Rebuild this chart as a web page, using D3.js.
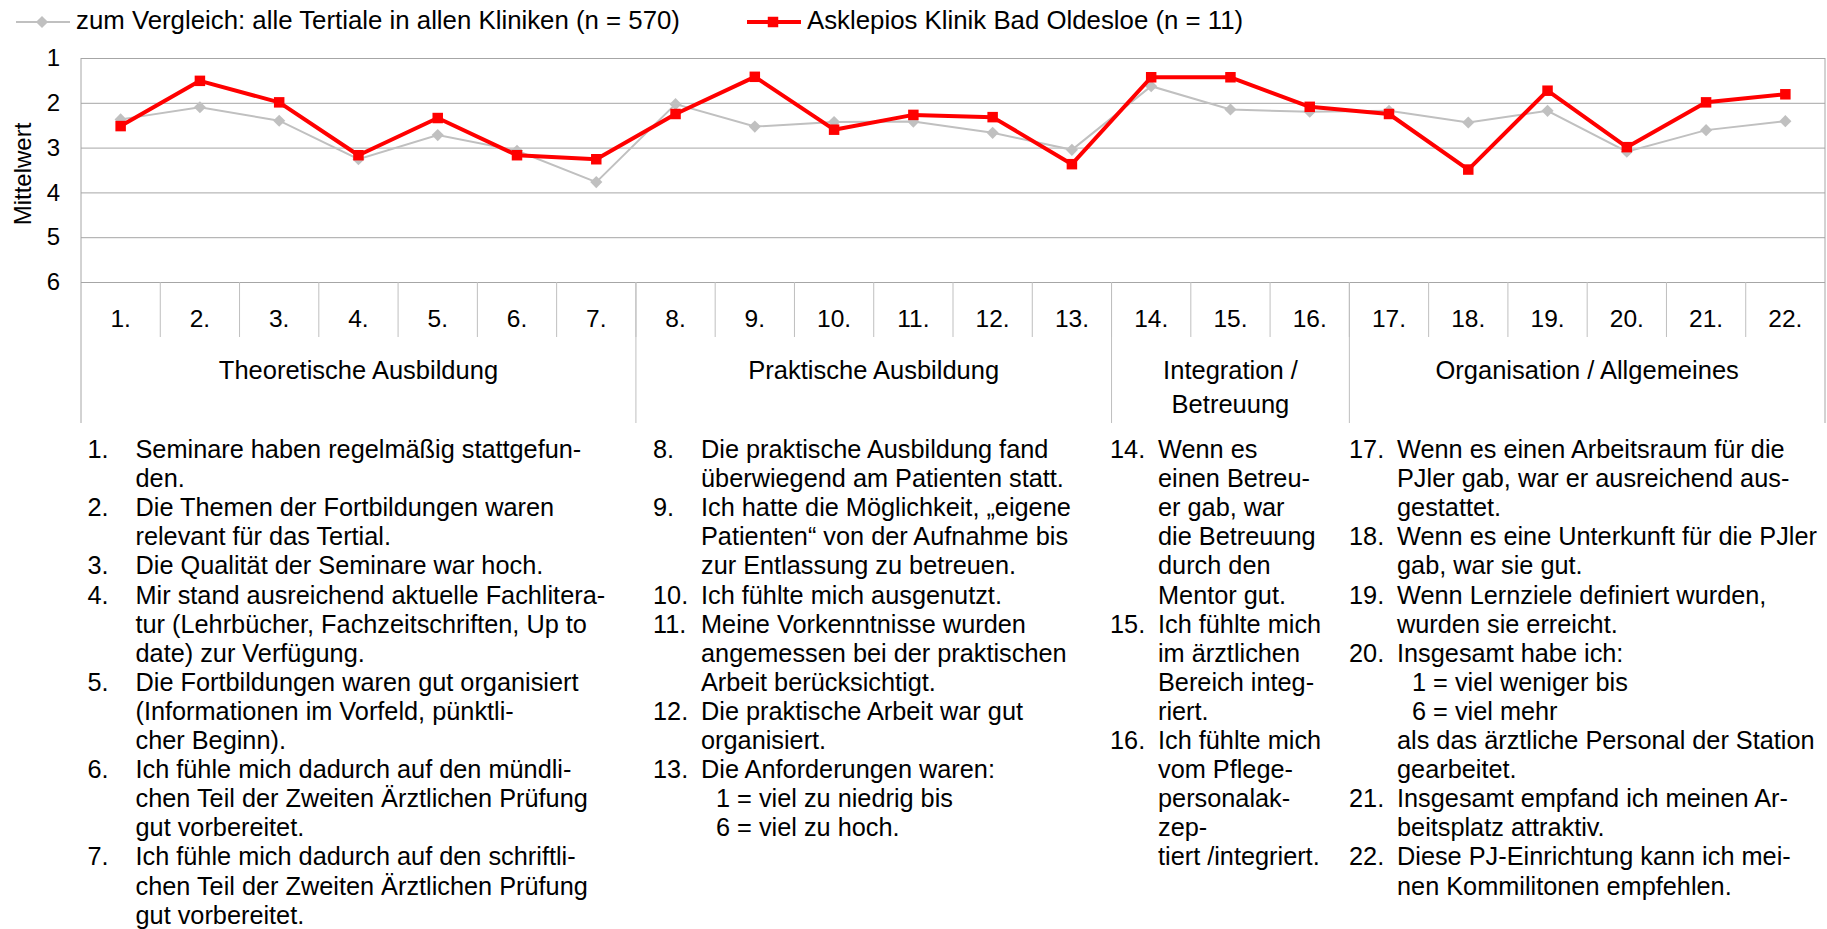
<!DOCTYPE html>
<html>
<head>
<meta charset="utf-8">
<script src="https://cdn.jsdelivr.net/npm/d3@7/dist/d3.min.js"></script>
<style>
    body { margin: 0; background: #fff; }
    svg { display: block; font-family: "Liberation Sans", Arial, sans-serif; }
</style>
</head>
<body>
<svg id="chart"></svg>
<script>
// values (1 = best, 6 = worst)
const categories = ['1.', '2.', '3.', '4.', '5.', '6.', '7.', '8.', '9.', '10.', '11.',
    '12.', '13.', '14.', '15.', '16.', '17.', '18.', '19.', '20.', '21.', '22.'];
const vergleich = [2.37, 2.10, 2.40, 3.26, 2.72, 3.07, 3.77, 2.03, 2.53, 2.43, 2.42,
    2.67, 3.05, 1.63, 2.15, 2.20, 2.18, 2.44, 2.18, 3.09, 2.61, 2.41];
const klinik = [2.52, 1.51, 1.99, 3.17, 2.34, 3.17, 3.26, 2.25, 1.42, 2.60, 2.27,
    2.32, 3.37, 1.43, 1.43, 2.09, 2.25, 3.49, 1.73, 2.99, 1.99, 1.81];
const yTicks = [1, 2, 3, 4, 5, 6];
const seriesNames = ['zum Vergleich: alle Tertiale in allen Kliniken (n = 570)',
    'Asklepios Klinik Bad Oldesloe (n = 11)'];
const groupNames = [['Theoretische Ausbildung'], ['Praktische Ausbildung'],
    ['Integration /', 'Betreuung'], ['Organisation / Allgemeines']];
const groupSizes = [7, 6, 3, 6];
const questions = [
    ['Seminare haben regelmäßig stattgefun-', 'den.'],
    ['Die Themen der Fortbildungen waren', 'relevant für das Tertial.'],
    ['Die Qualität der Seminare war hoch.'],
    ['Mir stand ausreichend aktuelle Fachlitera-', 'tur (Lehrbücher, Fachzeitschriften, Up to', 'date) zur Verfügung.'],
    ['Die Fortbildungen waren gut organisiert', '(Informationen im Vorfeld, pünktli-', 'cher Beginn).'],
    ['Ich fühle mich dadurch auf den mündli-', 'chen Teil der Zweiten Ärztlichen Prüfung', 'gut vorbereitet.'],
    ['Ich fühle mich dadurch auf den schriftli-', 'chen Teil der Zweiten Ärztlichen Prüfung', 'gut vorbereitet.'],
    ['Die praktische Ausbildung fand', 'überwiegend am Patienten statt.'],
    ['Ich hatte die Möglichkeit, „eigene', 'Patienten“ von der Aufnahme bis', 'zur Entlassung zu betreuen.'],
    ['Ich fühlte mich ausgenutzt.'],
    ['Meine Vorkenntnisse wurden', 'angemessen bei der praktischen', 'Arbeit berücksichtigt.'],
    ['Die praktische Arbeit war gut', 'organisiert.'],
    ['Die Anforderungen waren:', '1 = viel zu niedrig bis', '6 = viel zu hoch.'],
    ['Wenn es', 'einen Betreu-', 'er gab, war', 'die Betreuung', 'durch den', 'Mentor gut.'],
    ['Ich fühlte mich', 'im ärztlichen', 'Bereich integ-', 'riert.'],
    ['Ich fühlte mich', 'vom Pflege-', 'personalak-', 'zep-', 'tiert /integriert.'],
    ['Wenn es einen Arbeitsraum für die', 'PJler gab, war er ausreichend aus-', 'gestattet.'],
    ['Wenn es eine Unterkunft für die PJler', 'gab, war sie gut.'],
    ['Wenn Lernziele definiert wurden,', 'wurden sie erreicht.'],
    ['Insgesamt habe ich:', '1 = viel weniger bis', '6 = viel mehr', 'als das ärztliche Personal der Station', 'gearbeitet.'],
    ['Insgesamt empfand ich meinen Ar-', 'beitsplatz attraktiv.'],
    ['Diese PJ-Einrichtung kann ich mei-', 'nen Kommilitonen empfehlen.']
];

const svgWidth = 1827;
const svgHeight = 929;
const plot = { left: 81, right: 1825, top: 58, bottom: 282 };
const catRowBottom = 337;
const groupRowBottom = 423;
const listColumns = [87.5, 653, 1110, 1349];
const listTop = 458;
const listLine = 29.1;

const svg = d3.select('#chart')
    .attr('width', svgWidth)
    .attr('height', svgHeight);

const x = d3.scaleBand()
    .domain(categories)
    .range([plot.left, plot.right]);
const y = d3.scaleLinear()
    .domain([1, 6])
    .range([plot.top, plot.bottom]);
const cx = (d, i) => x(categories[i]) + x.bandwidth() / 2;

// horizontal grid + y labels
svg.append('g')
    .attr('transform', 'translate(' + plot.left + ',0)')
    .call(d3.axisLeft(y)
        .tickValues(yTicks)
        .tickSize(-(plot.right - plot.left))
        .tickPadding(21)
        .tickFormat(d3.format('d')))
    .call(g => g.select('.domain').remove())
    .call(g => g.selectAll('.tick line').attr('stroke', '#a6a6a6'))
    .call(g => g.selectAll('.tick text')
        .attr('font-size', 24)
        .attr('font-family', null)
        .attr('fill', '#000'));

svg.append('text')
    .attr('transform', 'translate(31,' + ((plot.top + plot.bottom) / 2 + 4) + ') rotate(-90)')
    .attr('text-anchor', 'middle')
    .attr('font-size', 24)
    .text('Mittelwert');

// category labels under the plot
svg.append('g')
    .attr('transform', 'translate(0,' + plot.bottom + ')')
    .call(d3.axisBottom(x).tickSize(0).tickPadding(28))
    .call(g => g.select('.domain').remove())
    .call(g => g.selectAll('.tick text')
        .attr('font-size', 24.5)
        .attr('font-family', null)
        .attr('fill', '#000'));

svg.append('g')
    .selectAll('line')
    .data(categories.slice(1))
    .enter()
    .append('line')
    .attr('x1', d => x(d))
    .attr('x2', d => x(d))
    .attr('y1', plot.bottom)
    .attr('y2', catRowBottom)
    .attr('stroke', '#bfbfbf');

// group boundaries and labels
const bounds = [0, ...d3.cumsum(groupSizes)];
const boundX = i => i < categories.length ? x(categories[i]) : plot.right;

svg.append('g')
    .selectAll('line')
    .data(bounds)
    .enter()
    .append('line')
    .attr('x1', d => boundX(d))
    .attr('x2', d => boundX(d))
    .attr('y1', d => d === 0 || d === categories.length ? plot.top : plot.bottom)
    .attr('y2', groupRowBottom)
    .attr('stroke', d => d === 0 || d === categories.length ? '#a6a6a6' : '#bfbfbf');

svg.append('g')
    .selectAll('text')
    .data(groupNames)
    .enter()
    .append('text')
    .attr('x', (d, i) => (boundX(bounds[i]) + boundX(bounds[i + 1])) / 2)
    .attr('y', 379)
    .attr('text-anchor', 'middle')
    .attr('font-size', 25.5)
    .selectAll('tspan')
    .data(d => d)
    .enter()
    .append('tspan')
    .attr('x', function () { return this.parentNode.getAttribute('x'); })
    .attr('dy', (d, i) => i === 0 ? 0 : 34)
    .text(d => d);

// series
const line = d3.line()
    .x(cx)
    .y(d => y(d));

svg.append('path')
    .datum(vergleich)
    .attr('d', line)
    .attr('fill', 'none')
    .attr('stroke', '#c0c0c0')
    .attr('stroke-width', 2);

const diamond = d3.symbol(d3.symbolSquare, 74);
svg.append('g')
    .selectAll('path')
    .data(vergleich)
    .enter()
    .append('path')
    .attr('d', diamond)
    .attr('transform', (d, i) => 'translate(' + cx(d, i) + ',' + y(d) + ') rotate(45)')
    .attr('fill', '#c0c0c0');

svg.append('path')
    .datum(klinik)
    .attr('d', line)
    .attr('fill', 'none')
    .attr('stroke', '#ff0000')
    .attr('stroke-width', 4)
    .attr('stroke-linejoin', 'round');

const square = d3.symbol(d3.symbolSquare, 110);
svg.append('g')
    .selectAll('path')
    .data(klinik)
    .enter()
    .append('path')
    .attr('d', square)
    .attr('transform', (d, i) => 'translate(' + cx(d, i) + ',' + y(d) + ')')
    .attr('fill', '#ff0000');

// legend
const legend = [
    { x: 16, color: '#c0c0c0', width: 2, symbol: diamond, rotate: 45 },
    { x: 747, color: '#ff0000', width: 4, symbol: square, rotate: 0 }
];
const lg = svg.append('g')
    .selectAll('g')
    .data(legend)
    .enter()
    .append('g')
    .attr('transform', d => 'translate(' + d.x + ',22)');
lg.append('line')
    .attr('x2', 54)
    .attr('stroke', d => d.color)
    .attr('stroke-width', d => d.width);
lg.append('path')
    .attr('d', d => d.symbol())
    .attr('transform', d => 'translate(26,0) rotate(' + d.rotate + ')')
    .attr('fill', d => d.color);
lg.append('text')
    .attr('x', 60)
    .attr('y', 7)
    .attr('font-size', 25.8)
    .text((d, i) => seriesNames[i]);

// numbered question list, one column per group
const rows = [];
groupSizes.forEach((size, g) => {
    let lineNo = 0;
    for (let q = bounds[g]; q < bounds[g + 1]; q++) {
        questions[q].forEach((t, k) => {
            rows.push({ col: g, lineNo: lineNo++, num: k === 0 ? categories[q] : null, text: t });
        });
    }
});

const list = svg.append('g')
    .attr('font-size', 25.3)
    .attr('fill', '#000');
list.selectAll('text.num')
    .data(rows.filter(r => r.num))
    .enter()
    .append('text')
    .attr('class', 'num')
    .attr('x', d => listColumns[d.col])
    .attr('y', d => listTop + d.lineNo * listLine)
    .text(d => d.num);
list.selectAll('text.line')
    .data(rows)
    .enter()
    .append('text')
    .attr('class', 'line')
    .attr('x', d => listColumns[d.col] + 48 + (/^[16] = /.test(d.text) ? 15 : 0))
    .attr('y', d => listTop + d.lineNo * listLine)
    .text(d => d.text);
</script>
</body>
</html>
